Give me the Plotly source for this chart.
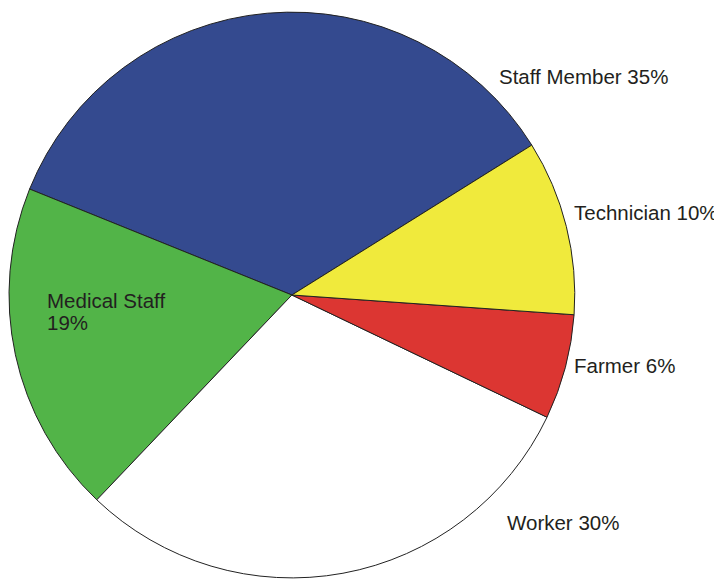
import plotly.graph_objects as go

# occupation share, counter-clockwise from the upper-left edge
labels = ["Staff Member", "Medical Staff", "Worker", "Farmer", "Technician"]
values = [35, 19, 30, 6, 10]
colors = ["#344a8f", "#52b448", "#ffffff", "#dc3632", "#f0ea3c"]

FONT = "Liberation Sans, Arial, Helvetica, sans-serif"
TXT = "#231f20"
W, H = 722, 581

fig = go.Figure(go.Pie(
    labels=labels, values=values, sort=False,
    direction="counterclockwise", rotation=-68,
    marker=dict(colors=colors, line=dict(color="#222222", width=1)),
    textinfo="none", hoverinfo="label+percent", showlegend=False,
    domain=dict(x=[0.0014, 0.785], y=[0.016, 0.996]),
))

# label placement in figure pixels (left edge, vertical centre)
lab_pos = {
    "Staff Member": (489, 68),
    "Technician": (564, 204),
    "Farmer": (564, 357),
    "Worker": (497, 514),
}
for lab, val in zip(labels, values):
    if lab == "Medical Staff":
        # inside label, two lines
        lines = [(lab, 292), (f"{val}%", 314)]
    else:
        lines = [(f"{lab} {val}%", lab_pos[lab][1])]
    for txt, y in lines:
        x = 37 if lab == "Medical Staff" else lab_pos[lab][0]
        fig.add_annotation(
            x=x / W, y=1 - y / H, xref="paper", yref="paper",
            xanchor="left", yanchor="middle",
            text=txt, showarrow=False,
            font=dict(family=FONT, size=20.5, color=TXT),
        )

fig.update_layout(
    width=W, height=H,
    margin=dict(l=0, r=0, t=0, b=0),
    paper_bgcolor="white", plot_bgcolor="white",
    font=dict(family=FONT, color=TXT),
)

fig.write_html("out.html")
